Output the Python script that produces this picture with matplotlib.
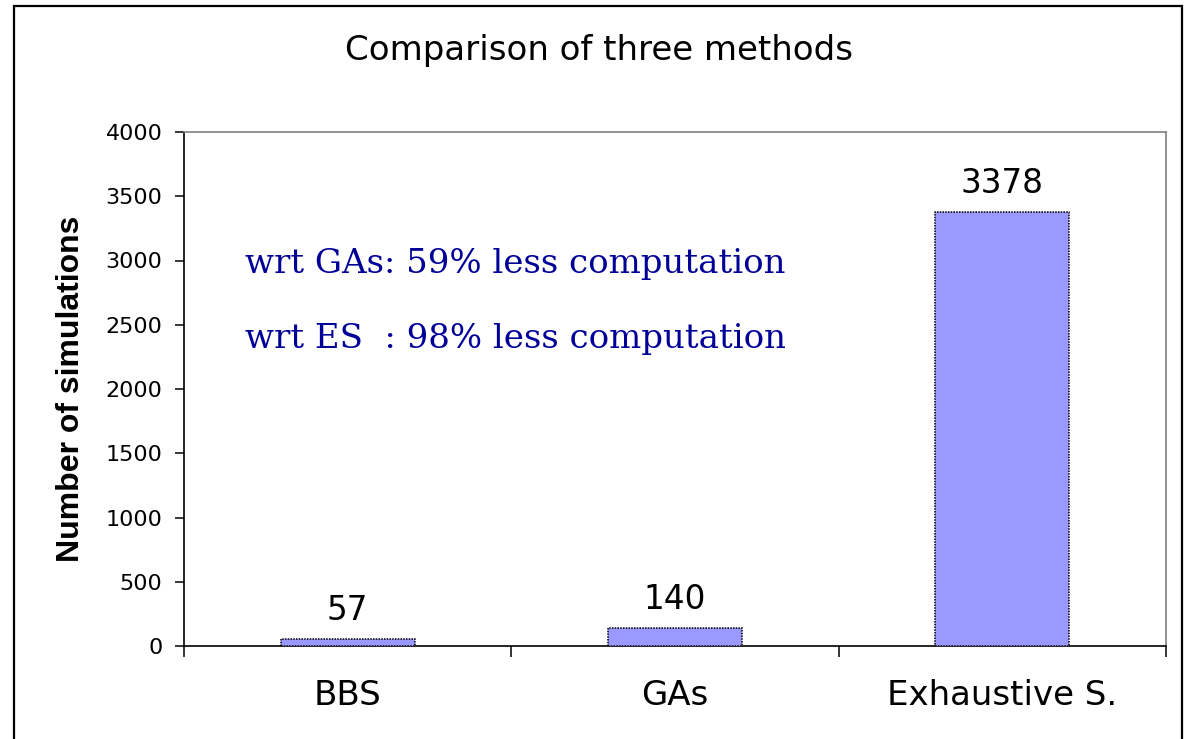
import matplotlib
matplotlib.use("Agg")
import matplotlib.pyplot as plt
from matplotlib.patches import Rectangle

# Data
methods = ["BBS", "GAs", "Exhaustive S."]
simulations = [57, 140, 3378]
y_ticks = [0, 500, 1000, 1500, 2000, 2500, 3000, 3500, 4000]
notes = ["wrt GAs: 59% less computation", "wrt ES  : 98% less computation"]

W, H, DPI = 1186, 739, 100
fig = plt.figure(figsize=(W / DPI, H / DPI), dpi=DPI)
fig.patch.set_facecolor("white")

# Plot area in pixel coordinates
L, R, T, B = 184, 1166, 132, 646
ax = fig.add_axes([L / W, 1 - B / H, (R - L) / W, (B - T) / H])

x = list(range(len(methods)))
bars = ax.bar(x, simulations, width=0.41, color="#9999FF",
              edgecolor="black", linewidth=1.1, linestyle=(0, (1, 0.8)), zorder=3)

ax.set_xlim(-0.5, len(methods) - 0.5)
ax.set_ylim(0, 4000)

# Value labels above each bar
for xi, v in zip(x, simulations):
    ax.annotate(f"{v}", xy=(xi, v), xytext=(0, 13.5), textcoords="offset points",
                ha="center", va="baseline", fontsize=23.5,
                family="DejaVu Sans", color="black")

# Y axis
ax.set_yticks(y_ticks)
ax.set_yticklabels([str(t) for t in y_ticks], family="DejaVu Sans", fontsize=16)
ax.tick_params(axis="y", direction="out", length=6.5, width=1.1, pad=9.0,
               colors="black")

# X axis: category labels centred, tick marks at category boundaries
ax.set_xticks(x)
ax.set_xticklabels(methods, family="DejaVu Sans", fontsize=24.5)
ax.tick_params(axis="x", which="major", length=0, pad=24)
ax.set_xticks([i - 0.5 for i in range(len(methods) + 1)], minor=True)
ax.tick_params(axis="x", which="minor", direction="out", length=7.9, width=1.1,
               colors="black")

ax.set_ylabel("Number of simulations", family="Liberation Sans",
              fontweight="bold", fontsize=23)
ax.yaxis.set_label_coords(-(L - 86) / (R - L), 0.5)

# Spines
for side in ("left", "bottom"):
    ax.spines[side].set_color("black")
    ax.spines[side].set_linewidth(1.2)
for side in ("top", "right"):
    ax.spines[side].set_color("#808080")
    ax.spines[side].set_linewidth(1.2)

# Comparison notes
for i, txt in enumerate(notes):
    base_px = 273 + i * 75
    ax.text((245 - L) / (R - L), (B - base_px) / (B - T), txt,
            transform=ax.transAxes, ha="left", va="baseline",
            family="DejaVu Serif", fontsize=24.5, color="#000099")

# Title
fig.text(599 / W, 1 - 60 / H, "Comparison of three methods", ha="center",
         va="baseline", family="DejaVu Sans", fontsize=24.5, color="black")

# Outer chart frame
frame = Rectangle((14 / W, -0.02), (1182 - 14) / W, 1.02 - 6 / H,
                  transform=fig.transFigure, fill=False, edgecolor="black",
                  linewidth=1.6, clip_on=False)
fig.patches.append(frame)

fig.savefig("out.png", dpi=DPI, facecolor="white")
